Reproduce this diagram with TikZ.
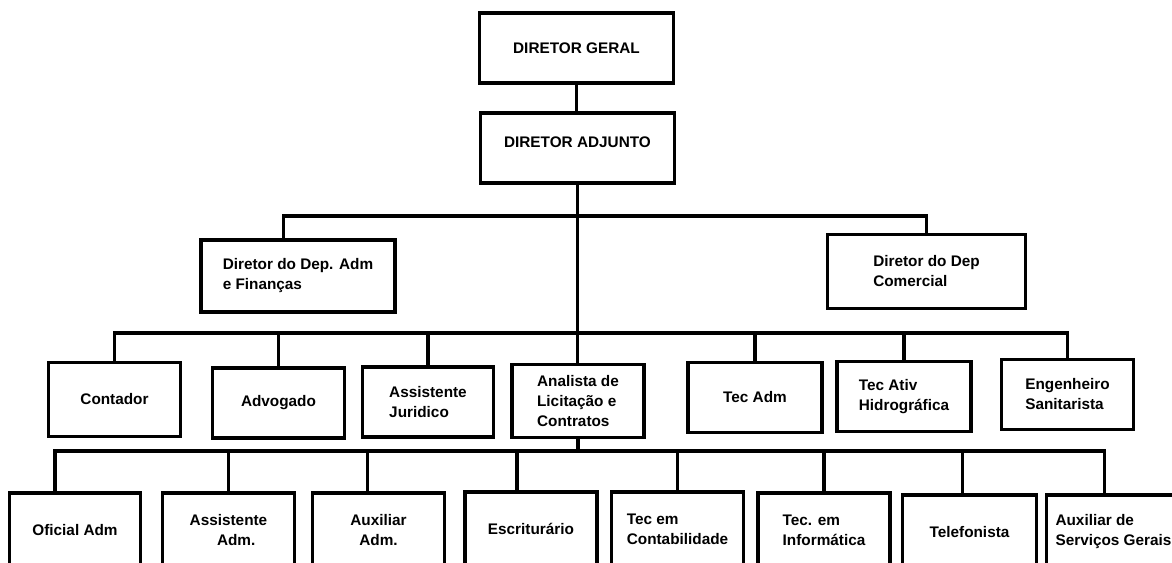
\documentclass[tikz,border=0pt]{standalone}
\usepackage{fontspec}
\setmainfont{Liberation Sans}
\usetikzlibrary{calc}

\tikzset{every picture/.style={line width=0.75pt}}
\tikzset{
  post/.style={draw, rectangle, line width=2.3pt, inner sep=0pt,
    font=\bfseries\fontsize{11.5}{15}\selectfont, align=left,
    minimum width=98.5pt, minimum height=55pt},
  link/.style={line width=2.3pt}
}

\begin{document}
\begin{tikzpicture}[x=0.75pt,y=0.75pt,yscale=-1,xscale=1]
\useasboundingbox (0,0) rectangle (1172,563);
\clip (0,0) rectangle (1172,563);

% top
\node[post, minimum width=145pt, minimum height=52.5pt] (geral) at (576.5,48) {DIRETOR GERAL};
\node[post, minimum width=146pt, minimum height=52.5pt, text depth=9pt] (adjunto) at (577.5,148) {DIRETOR ADJUNTO};

% departments
\node[post, minimum width=145.5pt, minimum height=54pt] (dadm) at (298,276) {Diretor do Dep. Adm\\e Finanças};
\node[post, minimum width=148pt, minimum height=55pt] (dcom) at (926.5,271.5) {Diretor do Dep\\Comercial};

% row 3
\node[post] (contador) at (114.5,399.5) {Contador};
\node[post, minimum height=52.5pt] (advogado) at (278.5,403) {Advogado};
\node[post, minimum height=52.5pt] (assjur) at (428,402) {Assistente\\Juridico};
\node[post, minimum width=99pt] (analista) at (578,401) {Analista de\\Licitação e\\Contratos};
\node[post, minimum width=100.5pt, minimum height=53pt] (tecadm) at (755,397.5) {Tec Adm};
\node[post, minimum width=100.5pt, minimum height=53pt] (tecativ) at (904,396.5) {Tec Ativ\\Hidrográfica};
\node[post, minimum height=53pt] (eng) at (1067.5,394.5) {Engenheiro\\Sanitarista};

% row 4
\node[post, minimum height=55.5pt] (oficial) at (75,530) {Oficial Adm};
\node[post, minimum height=55.5pt, align=center] (assadm) at (228.5,530) {Assistente\\\quad Adm.};
\node[post, minimum height=55.5pt, align=center] (auxadm) at (378.5,530) {Auxiliar\\Adm.};
\node[post, minimum width=99pt, minimum height=55.5pt] (escrit) at (531,529) {Escriturário};
\node[post, minimum height=55.5pt] (teccont) at (677.5,529) {Tec em\\Contabilidade};
\node[post, minimum width=99pt, minimum height=55.5pt] (tecinf) at (824,530) {Tec. em\\Informática};
\node[post, minimum width=101pt, minimum height=55.5pt] (telef) at (969.5,532) {Telefonista};
\node[post, minimum width=100pt, minimum height=55.5pt] (auxserv) at (1113.5,532) {Auxiliar de\\Serviços Gerais};

% bus levels
\coordinate (b1) at (577.5,216);
\coordinate (b2) at (577.5,333);
\coordinate (b3) at (577.5,451);

% lines
\draw[link] (geral.south) -- (geral.south |- adjunto.north);
\draw[link] (adjunto.south) -- (adjunto.south |- analista.north);
\draw[link] ($(dadm.north)+(-11pt,0)$) |- (dcom.north |- b1) -- (dcom.north);
\draw[link] (contador.north) |- (eng.north |- b2) -- (eng.north);
\foreach \n in {advogado,assjur,tecadm,tecativ}
  \draw[link] (\n.north) -- (\n.north |- b2);
\draw[link] (analista.south) -- (analista.south |- b3);
\draw[link] ($(oficial.north)+(-15pt,0)$) |- ($(auxserv.north |- b3)+(-7pt,0)$) -- ($(auxserv.north)+(-7pt,0)$);
\foreach \n/\s in {assadm/0pt,auxadm/-8pt,escrit/-10.5pt,teccont/0pt,tecinf/0pt,telef/-5.5pt}
  \draw[link] ($(\n.north)+(\s,0)$) -- ($(\n.north |- b3)+(\s,0)$);

\end{tikzpicture}
\end{document}
